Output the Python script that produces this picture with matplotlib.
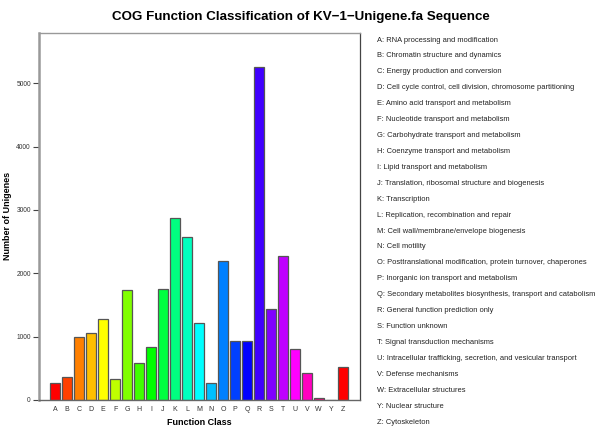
import matplotlib
matplotlib.use('Agg')
import matplotlib.pyplot as plt
import numpy as np

matplotlib.rcParams['font.family'] = ['Liberation Sans', 'DejaVu Sans']

classes = ['A', 'B', 'C', 'D', 'E', 'F', 'G', 'H', 'I', 'J', 'K', 'L', 'M',
           'N', 'O', 'P', 'Q', 'R', 'S', 'T', 'U', 'V', 'W', 'Y', 'Z']
counts = [263, 358, 990, 1053, 1274, 326, 1732, 579, 832, 1747, 2868, 2568, 1211,
          274, 2189, 932, 937, 5263, 1432, 2268, 800, 432, 30, 5, 516]
descriptions = [
    'RNA processing and modification',
    'Chromatin structure and dynamics',
    'Energy production and conversion',
    'Cell cycle control, cell division, chromosome partitioning',
    'Amino acid transport and metabolism',
    'Nucleotide transport and metabolism',
    'Carbohydrate transport and metabolism',
    'Coenzyme transport and metabolism',
    'Lipid transport and metabolism',
    'Translation, ribosomal structure and biogenesis',
    'Transcription',
    'Replication, recombination and repair',
    'Cell wall/membrane/envelope biogenesis',
    'Cell motility',
    'Posttranslational modification, protein turnover, chaperones',
    'Inorganic ion transport and metabolism',
    'Secondary metabolites biosynthesis, transport and catabolism',
    'General function prediction only',
    'Function unknown',
    'Signal transduction mechanisms',
    'Intracellular trafficking, secretion, and vesicular transport',
    'Defense mechanisms',
    'Extracellular structures',
    'Nuclear structure',
    'Cytoskeleton',
]

# rainbow(24) like in R, recycled for the 25th bar
hues = np.arange(24) / 24
colors = [matplotlib.colors.hsv_to_rgb((h, 1, 1)) for h in hues]
colors = [colors[i % 24] for i in range(len(classes))]

fig = plt.figure(figsize=(6, 4.26), dpi=100)
ax = fig.add_axes([38.5 / 600, 1 - 400 / 426, (360 - 38.5) / 600, (400 - 32.5) / 426])

x = np.arange(len(classes))
ax.bar(x, counts, width=0.83, color=colors, edgecolor='#555555', linewidth=0.9)

ax.set_xlim(-1.39, 25.44)
ax.set_ylim(0, 5800)
ax.set_xticks(x)
ax.set_xticklabels(classes, fontsize=5, color='#333333')
ax.tick_params(axis='x', length=0, pad=4)
ax.set_yticks([0, 1000, 2000, 3000, 4000, 5000])
ax.tick_params(axis='y', length=4, width=0.8, color='#444444', labelsize=4.8, pad=1.5, labelcolor='#333333')

ax.spines['left'].set_color('#999999')
ax.spines['left'].set_linewidth(1.8)
ax.spines['top'].set_color('#999999')
ax.spines['top'].set_linewidth(1.0)
ax.spines['right'].set_color('#444444')
ax.spines['right'].set_linewidth(0.9)
ax.spines['bottom'].set_color('#666666')
ax.spines['bottom'].set_linewidth(1.0)

ax.set_xlabel('Function Class', fontsize=6.5, fontweight='bold', labelpad=4)
ax.set_ylabel('Number of Unigenes', fontsize=6.5, fontweight='bold', labelpad=3)

fig.text(301 / 600, 1 - 17 / 426, 'COG Function Classification of KV\u22121\u2212Unigene.fa Sequence',
         ha='center', va='center', fontsize=9.6, fontweight='bold')

for i, (c, d) in enumerate(zip(classes, descriptions)):
    y = 40 + i * (422 - 40) / 24
    fig.text(377 / 600, 1 - y / 426, c + ': ' + d, ha='left', va='center',
             fontsize=5.45, color='#222222')

plt.savefig('out.png', dpi=100)
